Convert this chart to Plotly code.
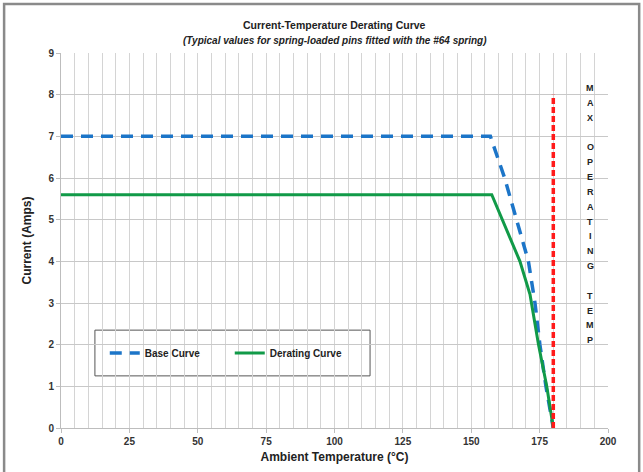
import plotly.graph_objects as go

# data
base_temp = [0, 157, 162.2, 166.6, 170.9, 173.3, 175.1, 177.3, 180]
base_amps = [7.0, 7.0, 6.0, 5.0, 4.0, 3.0, 2.0, 1.0, 0.0]

derate_temp = [0, 157.5, 167.8, 171.5, 174.6, 177.6, 180]
derate_amps = [5.6, 5.6, 4.0, 3.2, 2.0, 1.0, 0.0]

max_temp_x = [180, 180]
max_temp_y = [0, 8]

x_ticks = [0, 25, 50, 75, 100, 125, 150, 175, 200]
y_ticks = [0, 1, 2, 3, 4, 5, 6, 7, 8, 9]

label_letters = list("MAX") + [""] + list("OPERATING") + [""] + list("TEMP")

FONT = "Liberation Sans, Arial, sans-serif"

fig = go.Figure()

fig.add_trace(go.Scatter(
    x=base_temp, y=base_amps, mode="lines", name="Base Curve",
    line=dict(color="#1C75C8", width=3.5, dash="12px,8px"),
))
fig.add_trace(go.Scatter(
    x=derate_temp, y=derate_amps, mode="lines", name="Derating Curve",
    line=dict(color="#119A48", width=3),
))
fig.add_trace(go.Scatter(
    x=max_temp_x, y=max_temp_y, mode="lines", showlegend=False,
    line=dict(color="#FF1A1A", width=3.5, dash="6px,3px"),
))

# vertical "MAX OPERATING TEMP" label, one letter per row
top_y, step = 8.16, 0.356
for i, letter in enumerate(label_letters):
    if not letter:
        continue
    fig.add_annotation(
        x=193.5, y=top_y - i * step, xref="x", yref="y", showarrow=False,
        text="<b>" + letter + "</b>",
        font=dict(size=9, color="#222", family=FONT),
    )

fig.add_annotation(
    x=0.5, y=1.095, xref="paper", yref="paper", showarrow=False,
    text="<b>Current-Temperature Derating Curve</b>",
    font=dict(size=10.5, color="#222", family=FONT),
)
fig.add_annotation(
    x=0.5, y=1.052, xref="paper", yref="paper", showarrow=False,
    text="<b><i>(Typical values for spring-loaded pins fitted with the #64 spring)</i></b>",
    font=dict(size=10, color="#222", family=FONT),
)

# chart area frame
fig.add_shape(type="rect", xref="paper", yref="paper",
              x0=-0.104, x1=1.057, y0=-0.13, y1=1.131,
              line=dict(color="#8a8a8a", width=2.5), layer="above")
# legend box
fig.add_shape(type="rect", xref="paper", yref="paper",
              x0=0.062, x1=0.565, y0=0.139, y1=0.261,
              line=dict(color="#555", width=1), fillcolor="white", layer="below")

fig.update_xaxes(
    range=[0, 200], tickvals=x_ticks,
    tickfont=dict(size=10, family=FONT, color="#333", weight="bold"),
    title_text="<b>Ambient Temperature (°C)</b>",
    title_font=dict(size=12, family=FONT, color="#222"), title_standoff=6,
    showgrid=True, gridcolor="#d4d4d4", gridwidth=1,
    showline=True, linecolor="#bdbdbd", zeroline=False,
    ticks="outside", ticklen=4, tickcolor="#bdbdbd",
    minor=dict(dtick=5, showgrid=True, gridcolor="#d4d4d4"),
)
fig.update_yaxes(
    range=[0, 9], tickvals=y_ticks,
    tickfont=dict(size=10, family=FONT, color="#333", weight="bold"),
    title_text="<b>Current (Amps)</b>",
    title_font=dict(size=12, family=FONT, color="#222"), title_standoff=14,
    showgrid=True, gridcolor="#c8c8c8", gridwidth=1,
    showline=True, linecolor="#bdbdbd", zeroline=False,
    ticks="outside", ticklen=4, tickcolor="#bdbdbd",
)

fig.update_layout(
    width=643, height=472,
    margin=dict(l=61, r=35, t=53, b=44),
    paper_bgcolor="white", plot_bgcolor="white",
    font=dict(family=FONT, color="#222"),
    legend=dict(
        orientation="h", x=0.08, y=0.2, xanchor="left", yanchor="middle",
        bgcolor="rgba(0,0,0,0)", borderwidth=0,
        font=dict(size=10, family=FONT, color="#222", weight="bold"),
        entrywidth=80, itemwidth=30,
    ),
    showlegend=True,
)

fig.write_html("out.html", config={"displayModeBar": False},
               post_script="document.body.style.margin='0';")
